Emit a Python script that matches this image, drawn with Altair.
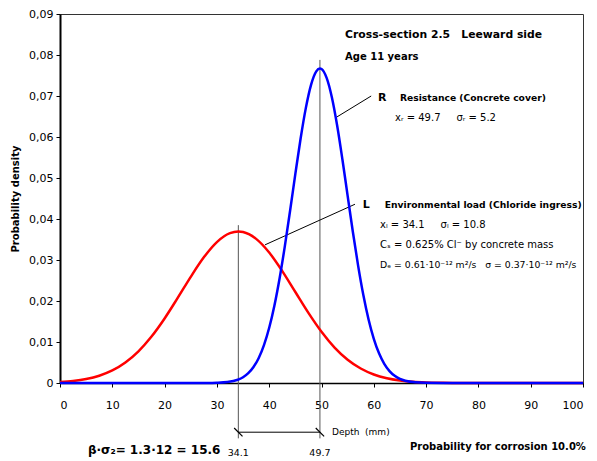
import altair as alt
import pandas as pd

# Environmental load L (red curve)
red_x = [0, 2.5, 5, 7.5, 10, 12.5, 15, 17.5, 20, 22.5, 25, 27.5, 30, 32.5, 34.1, 35, 37.5, 40,
         42.5, 45, 47.5, 50, 52.5, 55, 57.5, 60, 62.5, 65, 67.5, 70, 72.5, 75, 80, 90, 100]
red_y = [0.00025, 0.00051, 0.00098, 0.00178, 0.00306, 0.00500, 0.00773, 0.01134, 0.01575,
         0.02075, 0.02590, 0.03065, 0.03437, 0.03654, 0.03694, 0.03681, 0.03515, 0.03182,
         0.02730, 0.02220, 0.01711, 0.01250, 0.00865, 0.00568, 0.00353, 0.00208, 0.00116,
         0.00062, 0.00031, 0.00015, 0.00007, 0.00003, 0.000004, 0.0, 0.0]

# Resistance R (blue curve)
blue_x = [0, 10, 20, 25, 28, 30, 32, 34, 35, 36, 37, 38, 39, 40, 41, 42, 43, 44, 45, 46, 47,
          48, 49, 49.7, 50, 51, 52, 53, 54, 55, 56, 57, 58, 59, 60, 61, 62, 63, 64, 65, 66,
          68, 70, 75, 80, 90, 100]
blue_y = [0.0, 0.0, 0.0, 0.0, 0.00001, 0.00006, 0.00023, 0.00080, 0.00141, 0.00239, 0.00389,
          0.00610, 0.00924, 0.01347, 0.01893, 0.02563, 0.03345, 0.04207, 0.05099, 0.05957,
          0.06704, 0.07273, 0.07602, 0.07672, 0.07659, 0.07436, 0.06957, 0.06273, 0.05450,
          0.04564, 0.03683, 0.02864, 0.02146, 0.01550, 0.01079, 0.00724, 0.00468, 0.00291,
          0.00175, 0.00101, 0.00056, 0.00016, 0.00004, 0.0, 0.0, 0.0, 0.0]

x_ticks = [0, 10, 20, 30, 40, 50, 60, 70, 80, 90, 100]
y_ticks = [0, 0.01, 0.02, 0.03, 0.04, 0.05, 0.06, 0.07, 0.08, 0.09]

mean_L = 34.1
mean_R = 49.7

FONT = "DejaVu Sans"
SP = "\u00a0"

curves = pd.concat([
    pd.DataFrame({"x": red_x, "y": red_y, "series": "L"}),
    pd.DataFrame({"x": blue_x, "y": blue_y, "series": "R"}),
])

xs = alt.Scale(domain=[0, 100], nice=False, zero=False)
ys = alt.Scale(domain=[0, 0.09], nice=False)

x_axis = alt.Axis(values=x_ticks, title=None, labelFontSize=11, labelPadding=12,
                  domainColor="black", domainWidth=1.5, tickColor="black",
                  tickSize=4, grid=False, labelColor="black", labelFont=FONT)
y_axis = alt.Axis(values=y_ticks, title="Probability density", titleFontSize=10,
                  titleFontWeight="bold", titleFont=FONT, titlePadding=8, titleColor="black",
                  labelFontSize=11, labelPadding=3, domainColor="black",
                  domainWidth=2, tickColor="black", tickSize=4, grid=False,
                  labelColor="black", labelFont=FONT,
                  labelExpr="datum.value == 0 ? '0' : replace(format(datum.value, '.2f'), '.', ',')")


def X(f="x"):
    return alt.X(f"{f}:Q", scale=xs, axis=x_axis, title=None)


def Y(f="y"):
    return alt.Y(f"{f}:Q", scale=ys, axis=y_axis, title="Probability density")


lines = alt.Chart(curves).mark_line(strokeWidth=2.5, interpolate="monotone").encode(
    x=X(), y=Y(),
    color=alt.Color("series:N", scale=alt.Scale(domain=["L", "R"], range=["#ff0000", "#0000ff"]),
                    legend=None),
    detail="series:N",
)

vlines = pd.DataFrame({"x": [mean_L, mean_R], "y": [-0.0135, -0.0135], "y2": [0.0385, 0.0788]})
vrule = alt.Chart(vlines).mark_rule(color="#555555", strokeWidth=1, clip=False).encode(
    x=X(), y=Y(), y2="y2:Q")

dim = pd.DataFrame({"x": [mean_L], "x2": [mean_R], "y": [-0.0120]})
dimrule = alt.Chart(dim).mark_rule(color="black", strokeWidth=1, clip=False).encode(
    x=X(), x2="x2:Q", y=Y())
slashes = alt.Chart(pd.DataFrame({"x": [mean_L, mean_R], "y": [-0.0120, -0.0120]})).mark_point(
    shape="M -1 -1 L 1 1", size=70, color="black", strokeWidth=1.2, filled=False, clip=False,
    opacity=1
).encode(x=X(), y=Y())

leaders = pd.DataFrame({
    "x": [52.96, 39.2], "y": [0.0649, 0.0337],
    "x2": [59.5, 56.4], "y2": [0.0700, 0.0436],
})
leader = alt.Chart(leaders).mark_rule(color="black", strokeWidth=1).encode(
    x=X(), y=Y(), x2="x2:Q", y2="y2:Q")


def text_layer(rows, size, weight="normal", align="left"):
    df = pd.DataFrame(rows, columns=["x", "y", "t"])
    return alt.Chart(df).mark_text(
        align=align, baseline="middle", fontSize=size, fontWeight=weight, font=FONT,
        color="black", clip=False
    ).encode(x=X(), y=Y(), text="t:N")


title_txt = text_layer([
    [54.5, 0.0849, f"Cross-section 2.5{SP*3}Leeward side"],
], 10.8, "bold")
age_txt = text_layer([[54.5, 0.0795, "Age 11 years"]], 10, "bold")
label_big = text_layer([
    [60.8, 0.0695, "R"],
    [57.9, 0.0434, "L"],
], 11, "bold")
label_names = text_layer([
    [65.0, 0.0695, "Resistance (Concrete cover)"],
    [62.1, 0.0434, "Environmental load (Chloride ingress)"],
], 9.2, "bold")
params = text_layer([
    [64.05, 0.0646, f"xᵣ = 49.7{SP*5}σᵣ = 5.2"],
    [61.2, 0.0385, f"xₗ = 34.1{SP*5}σₗ = 10.8"],
    [61.2, 0.0337, "Cₛ = 0.625% Cl⁻ by concrete mass"],
], 10)
de_txt = text_layer([
    [61.2, 0.0288, f"Dₑ = 0.61·10⁻¹² m²/s{SP*3}σ = 0.37·10⁻¹² m²/s"],
], 9.3)
depth_txt = text_layer([[52.0, -0.0120, f"Depth{SP*2}(mm)"]], 9)
mean_txt = text_layer([
    [mean_L, -0.0170, "34.1"],
    [mean_R, -0.0170, "49.7"],
], 9.5, align="center")
beta_txt = text_layer([[18.0, -0.0164, "β·σ₂= 1.3·12 = 15.6"]], 12, "bold", align="center")
prob_txt = text_layer([[66.9, -0.0156, "Probability for corrosion 10.0%"]], 10, "bold")

chart = alt.layer(
    vrule, dimrule, slashes, leader, lines,
    title_txt, age_txt, label_big, label_names, params, de_txt,
    depth_txt, mean_txt, beta_txt, prob_txt,
).properties(
    width=523, height=369, autosize="none",
    padding={"left": 52, "top": 6, "right": 6, "bottom": 74},
    background="white",
).configure_view(stroke="#333333", strokeWidth=1)

chart.save("out.html", embed_options={"renderer": "svg", "actions": False})
